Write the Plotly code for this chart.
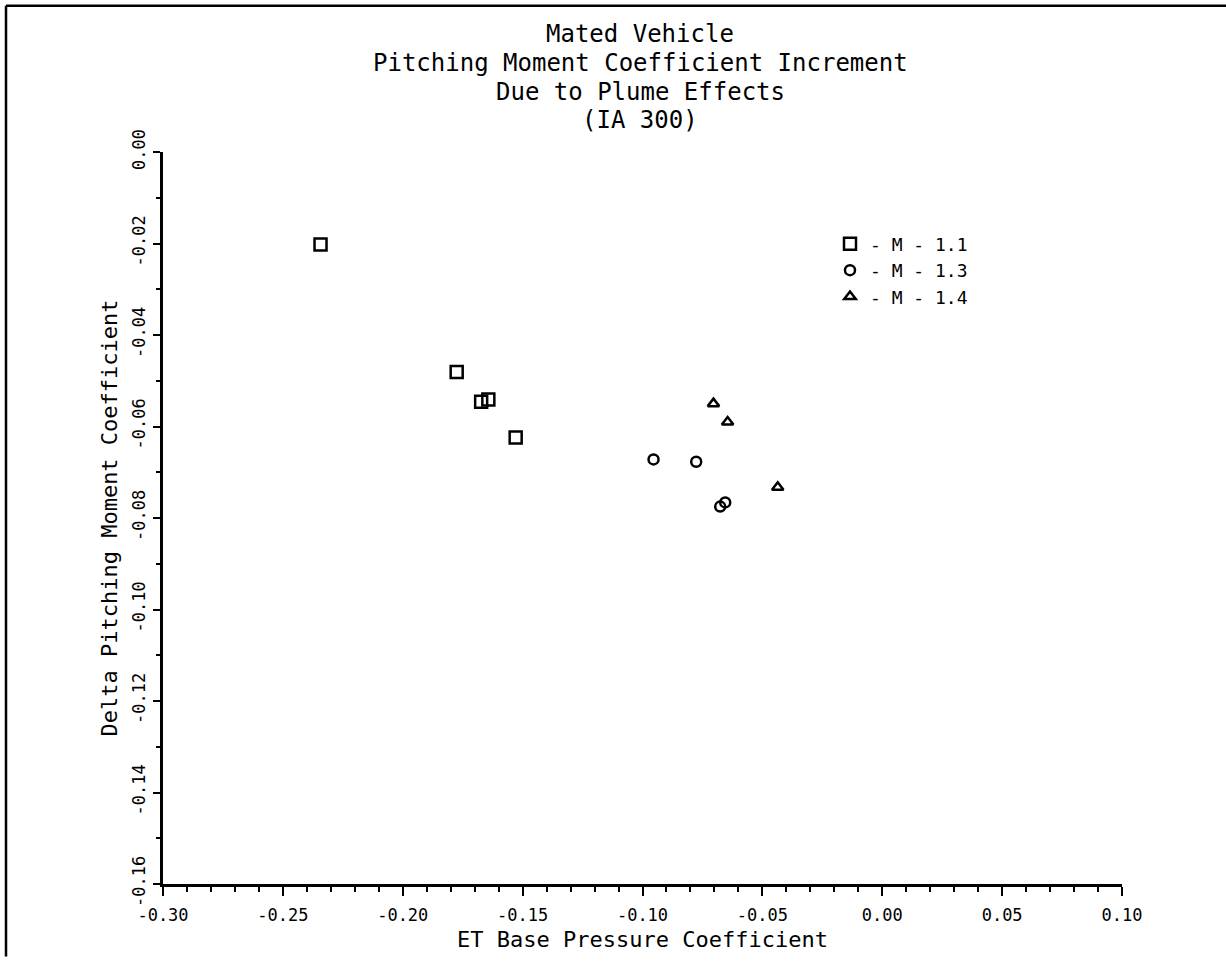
import plotly.graph_objects as go

# Data
m11_x = [-0.2343, -0.1775, -0.1673, -0.1643, -0.1529]
m11_y = [-0.0202, -0.0481, -0.0546, -0.0541, -0.0624]

m13_x = [-0.0954, -0.0776, -0.0676, -0.0655]
m13_y = [-0.0672, -0.0677, -0.0775, -0.0766]

m14_x = [-0.0704, -0.0645, -0.0436]
m14_y = [-0.0550, -0.0590, -0.0733]

series_names = ["- M - 1.1", "- M - 1.3", "- M - 1.4"]
title_lines = ["Mated Vehicle", "Pitching Moment Coefficient Increment",
               "Due to Plume Effects", "(IA 300)"]
x_title = "ET Base Pressure Coefficient"
y_title = "Delta Pitching Moment Coefficient"

FONT = "DejaVu Sans Mono"
W, H = 1226, 961
L, R, T, B = 163, 104, 152, 73
PW, PH = W - L - R, H - T - B

def px_x(px):
    return (px - L) / PW

def px_y(py):
    return 1 - (py - T) / PH

fig = go.Figure()
fig.add_trace(go.Scatter(x=m11_x, y=m11_y, mode="markers", name=series_names[0],
                         marker=dict(symbol="square-open", size=12, color="black",
                                     line=dict(width=2.5, color="black"))))
fig.add_trace(go.Scatter(x=m13_x, y=m13_y, mode="markers", name=series_names[1],
                         marker=dict(symbol="circle-open", size=10, color="black",
                                     line=dict(width=2.5, color="black"))))
fig.add_trace(go.Scatter(x=m14_x, y=m14_y, mode="markers", name=series_names[2],
                         marker=dict(symbol="triangle-up-open", size=10, color="black",
                                     line=dict(width=2.5, color="black"))))

title_y_px = [33, 63, 92, 120]
annotations = []
for line, ypx in zip(title_lines, title_y_px):
    annotations.append(dict(text=line, xref="paper", yref="paper",
                            x=px_x(640), y=px_y(ypx), xanchor="center", yanchor="middle",
                            showarrow=False, font=dict(family=FONT, size=24, color="black")))

shapes = [
    dict(type="line", xref="paper", yref="paper", x0=px_x(6), x1=px_x(1226),
         y0=px_y(5), y1=px_y(5), line=dict(color="black", width=2.5)),
    dict(type="line", xref="paper", yref="paper", x0=px_x(6), x1=px_x(6),
         y0=px_y(5), y1=px_y(961), line=dict(color="black", width=2.5)),
]

fig.update_layout(
    width=W, height=H,
    margin=dict(l=L, r=R, t=T, b=B, pad=0),
    paper_bgcolor="white", plot_bgcolor="white",
    font=dict(family=FONT, color="black", size=17),
    showlegend=True,
    legend=dict(x=px_x(830), y=px_y(226), xanchor="left", yanchor="top",
                bgcolor="rgba(0,0,0,0)", font=dict(family=FONT, size=18, color="black"),
                itemwidth=30, tracegroupgap=0),
    annotations=annotations,
    shapes=shapes,
)

fig.update_xaxes(
    range=[-0.30, 0.10], autorange=False,
    tickmode="array", tickvals=[-0.30, -0.25, -0.20, -0.15, -0.10, -0.05, 0.00, 0.05, 0.10],
    ticktext=["-0.30", "-0.25", "-0.20", "-0.15", "-0.10", "-0.05", "0.00", "0.05", "0.10"],
    ticks="outside", ticklen=9, tickwidth=2, tickcolor="black",
    minor=dict(dtick=0.01, tick0=0, ticks="outside", ticklen=5, tickwidth=2, tickcolor="black", showgrid=False),
    showline=True, linecolor="black", linewidth=2.5, mirror=False,
    showgrid=False, zeroline=False,
    tickfont=dict(family=FONT, size=17, color="black"),
    ticklabelstandoff=5,
    title=dict(text=x_title, font=dict(family=FONT, size=22, color="black"), standoff=8),
)
fig.update_yaxes(
    range=[-0.16, 0.0], autorange=False,
    tickmode="array", tickvals=[-0.16, -0.14, -0.12, -0.10, -0.08, -0.06, -0.04, -0.02, 0.00],
    ticktext=["-0.16", "-0.14", "-0.12", "-0.10", "-0.08", "-0.06", "-0.04", "-0.02", "0.00"],
    ticks="outside", ticklen=7, tickwidth=2, tickcolor="black",
    minor=dict(dtick=0.01, tick0=0, ticks="outside", ticklen=4, tickwidth=2, tickcolor="black", showgrid=False),
    showline=True, linecolor="black", linewidth=2.5, mirror=False,
    showgrid=False, zeroline=False,
    tickangle=-90,
    tickfont=dict(family=FONT, size=17, color="black"),
    ticklabelstandoff=1,
    title=dict(text=y_title, font=dict(family=FONT, size=22, color="black"), standoff=6),
)

fig.write_html("out.html")
